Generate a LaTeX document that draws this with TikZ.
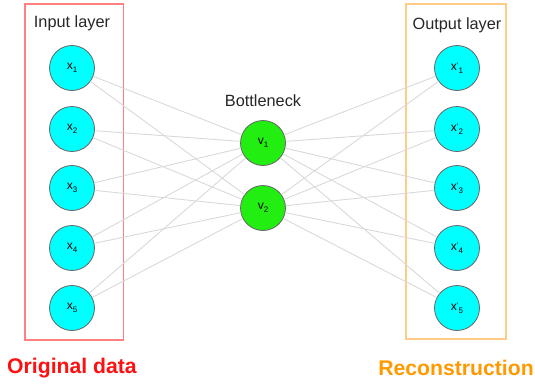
\documentclass[tikz,border=0pt]{standalone}
\usepackage{fontspec}
\setmainfont{Liberation Sans}
\begin{document}
\begin{tikzpicture}[x=1pt,y=-1pt,
  neuron/.style={circle,draw=black!60,line width=0.8pt,minimum size=45pt,inner sep=0pt,font=\fontsize{12}{12}\selectfont},
  conn/.style={draw=black!15,line width=0.9pt},
  lbl/.style={font=\fontsize{16.3}{18}\selectfont,text=black!85},
  big/.style={font=\fontsize{21.2}{24}\selectfont\bfseries}]
\useasboundingbox (0,0) rectangle (535,388);
\definecolor{incyan}{HTML}{00FFFF}
\definecolor{midgreen}{HTML}{22EE11}
\definecolor{redbox}{HTML}{FF8080}
\definecolor{orbox}{HTML}{FFCC88}
\definecolor{redtxt}{HTML}{FF1010}
\definecolor{ortxt}{HTML}{FF9900}
\newcommand{\sub}[1]{\raisebox{-0.45ex}{\fontsize{8}{8}\selectfont #1}}
\newcommand{\pr}{\raisebox{0.35ex}{\fontsize{8}{8}\selectfont '}}
% boxes
\draw[redbox,line width=1.3pt] (25,4) rectangle (123.5,340);
\draw[orbox,line width=1.3pt] (406,4) rectangle (506,339);
% nodes
\foreach \i/\y in {1/68,2/129,3/188,4/248,5/308}{
  \node[neuron,fill=incyan] (x\i) at (72,\y) {x\sub{\i}};
  \node[neuron,fill=incyan] (o\i) at (457,\y) {x\pr\sub{\i}};
}
\node[neuron,fill=midgreen] (v1) at (263,143) {v\sub{1}};
\node[neuron,fill=midgreen] (v2) at (263,208) {v\sub{2}};
% connections
\foreach \i in {1,...,5}{
  \foreach \j in {1,2}{
    \draw[conn] (x\i) -- (v\j);
    \draw[conn] (v\j) -- (o\i);
  }
}
% labels
\node[lbl] (inl) at (72,23) {Input layer};
\node[lbl] (outl) at (457,25) {Output layer};
\node[lbl] (bn) at (263,101) {Bottleneck};
\node[big,text=redtxt] (orig) at (72,368) {Original data};
\node[big,text=ortxt] (rec) at (456,368) {Reconstruction};
\end{tikzpicture}
\end{document}
